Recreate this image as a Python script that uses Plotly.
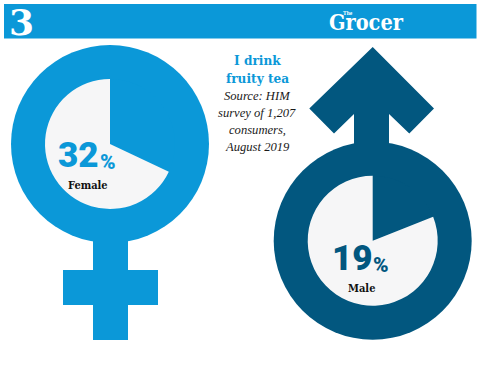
import plotly.graph_objects as go

W, H = 480, 367
BLUE = "#0b98d8"
NAVY = "#02577f"
PALE = "#f6f6f7"
COND = "DejaVu Serif Condensed"

groups = ["Female", "Male"]
shares = [32, 19]
centers = [(110, 144), (372.7, 240.7)]
marks = [BLUE, NAVY]
OUTER, INNER = 99, 65
title_lines = ["I drink", "fruity tea"]
source_lines = ["Source: HIM", "survey of 1,207", "consumers,", "August 2019"]

fig = go.Figure()
for g, s, (cx, cy), c in zip(groups, shares, centers, marks):
    fig.add_trace(go.Pie(
        labels=[g, "Other"], values=[s, 100 - s], sort=False, direction="clockwise", rotation=0,
        marker=dict(colors=[c, PALE], line=dict(width=0)), textinfo="none", hoverinfo="label+percent",
        showlegend=False,
        domain=dict(x=[(cx - INNER) / W, (cx + INNER) / W], y=[1 - (cy + INNER) / H, 1 - (cy - INNER) / H]),
    ))

def ring(cx, cy, c):
    return dict(type="circle", xref="x", yref="y", x0=cx - OUTER, x1=cx + OUTER, y0=cy - OUTER, y1=cy + OUTER,
                fillcolor=c, line_width=0, layer="below")

def poly(points, c):
    return dict(type="path", xref="x", yref="y", fillcolor=c, line_width=0, layer="below",
                path="M" + " L".join(f"{x},{y}" for x, y in points) + " Z")

shapes = [
    dict(type="rect", xref="x", yref="y", x0=4, x1=476.5, y0=4, y1=38.5, fillcolor=BLUE, line_width=0, layer="below"),
    ring(*centers[0], BLUE), ring(*centers[1], NAVY),
    poly([(93, 225), (128, 225), (128, 270), (158, 270), (158, 305), (128, 305), (128, 340), (93, 340),
          (93, 305), (63, 305), (63, 270), (93, 270)], BLUE),
    poly([(372.7, 47), (434, 108.5), (409.3, 133.5), (389, 114), (389, 160), (354, 160), (354, 114),
          (334, 133.5), (309.3, 108.5)], NAVY),
]

def label(x, y, text, size, color, family="Liberation Serif", anchor="center", weight=700, italic=False):
    return dict(x=x, y=y, xref="x", yref="y", text=f"<i>{text}</i>" if italic else text, showarrow=False,
                xanchor=anchor, yanchor="middle",
                font=dict(family=family, size=size, color=color, weight=weight))

ann = [
    label(21, 22, "3", 36, "white", "DejaVu Serif"),
    label(366, 22.5, "Grocer", 21.5, "white", COND),
    label(348, 13, "The", 5.5, "white", "Liberation Serif"),
    label(257.5, 60, title_lines[0], 13.5, BLUE, COND),
    label(257, 77.5, title_lines[1], 13.5, BLUE, COND),
    label(78, 155, f"{shares[0]}", 35, BLUE, "Roboto", weight=900),
    label(107.5, 162, "%", 21, BLUE, "Roboto", weight=900),
    label(88, 185, groups[0], 11, "#111111", COND),
    label(352, 258.5, f"{shares[1]}", 35, NAVY, "Roboto", weight=900),
    label(380.5, 265, "%", 21, NAVY, "Roboto", weight=900),
    label(361.7, 288, groups[1], 11, "#111111", COND),
]
for i, line in enumerate(source_lines):
    ann.append(label(257, 95.5 + 17.3 * i, line, 12.6, "#1a1a1a", weight=400, italic=True))

fig.update_layout(
    width=W, height=H, margin=dict(l=0, r=0, t=0, b=0), paper_bgcolor="white", plot_bgcolor="white",
    xaxis=dict(range=[0, W], visible=False, fixedrange=True),
    yaxis=dict(range=[H, 0], visible=False, fixedrange=True),
    shapes=shapes, annotations=ann,
)
fig.write_html("out.html", config=dict(displayModeBar=False),
               post_script="document.body.style.margin='0';")
